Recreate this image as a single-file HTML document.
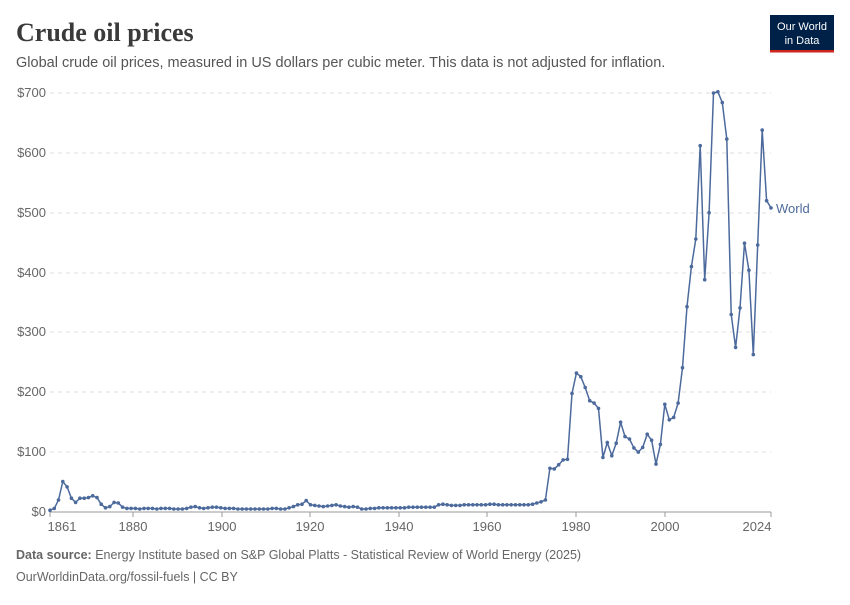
<!DOCTYPE html>
<html><head><meta charset="utf-8"><style>
body{margin:0;background:#fff;width:850px;height:600px;overflow:hidden;font-family:"Liberation Sans",sans-serif}
</style></head><body>
<svg width="850" height="600" xmlns="http://www.w3.org/2000/svg" font-family="Liberation Sans, sans-serif">
<text x="16" y="41" font-family="Liberation Serif, serif" font-size="26" font-weight="bold" fill="#3a3a3a">Crude oil prices</text>
<text x="16" y="67" font-size="14.5" fill="#555">Global crude oil prices, measured in US dollars per cubic meter. This data is not adjusted for inflation.</text>
<rect x="770" y="15" width="64" height="37" fill="#002147"/>
<rect x="770" y="50" width="64" height="2.5" fill="#ce261e"/>
<text x="802" y="30" font-size="11" fill="#fff" text-anchor="middle">Our World</text>
<text x="802" y="44" font-size="11" fill="#fff" text-anchor="middle">in Data</text>
<g stroke="#ddd" stroke-dasharray="4,4" stroke-width="1">
<line x1="50" x2="771" y1="93" y2="93"/><line x1="50" x2="771" y1="153" y2="153"/><line x1="50" x2="771" y1="213" y2="213"/><line x1="50" x2="771" y1="273" y2="273"/><line x1="50" x2="771" y1="332" y2="332"/><line x1="50" x2="771" y1="392" y2="392"/><line x1="50" x2="771" y1="452" y2="452"/>
</g>
<line x1="50" x2="771" y1="512" y2="512" stroke="#999"/>
<g font-size="13" fill="#666" text-anchor="end">
<text x="46" y="97">$700</text><text x="46" y="157">$600</text><text x="46" y="217">$500</text><text x="46" y="277">$400</text><text x="46" y="336">$300</text><text x="46" y="396">$200</text><text x="46" y="456">$100</text><text x="46" y="516">$0</text>
</g>
<g stroke="#999"><line x1="50" x2="50" y1="512" y2="517"/><line x1="133" x2="133" y1="512" y2="517"/><line x1="222" x2="222" y1="512" y2="517"/><line x1="310" x2="310" y1="512" y2="517"/><line x1="399" x2="399" y1="512" y2="517"/><line x1="487" x2="487" y1="512" y2="517"/><line x1="576" x2="576" y1="512" y2="517"/><line x1="665" x2="665" y1="512" y2="517"/><line x1="771" x2="771" y1="512" y2="517"/></g>
<g font-size="13" fill="#666" text-anchor="middle">
<text x="62" y="531">1861</text><text x="133" y="531">1880</text><text x="222" y="531">1900</text><text x="310" y="531">1920</text><text x="399" y="531">1940</text><text x="487" y="531">1960</text><text x="576" y="531">1980</text><text x="665" y="531">2000</text><text x="757" y="531">2024</text>
</g>
<g id="s"></g>
<text x="776" y="213" font-size="13" fill="#4c6a9c">World</text>
<text x="16" y="559" font-size="12.5" fill="#666"><tspan font-weight="bold">Data source:</tspan> Energy Institute based on S&amp;P Global Platts - Statistical Review of World Energy (2025)</text>
<text x="16" y="581" font-size="12.5" fill="#666">OurWorldinData.org/fossil-fuels | CC BY</text>
</svg>
<script>
var early=[3,6,20,51,42,23,16,23,23,24,27,24,13,7,9,16,15,8,6,6,6,5,6,6,6,5,6,6,6,5,5,5,6,8,9,7,6,7,8,8,7,6,6,6,5,5,5,5,5,5,5,5,6,6,5,5,7,9,12,13,19,12,11,10,9,10,11,12,10,9,8,9,8,5,5,6,6,7,7,7,7,7,7,7,8,8,8,8,8,8,8,12,13,12,11,11,11,12,12,12,12,12,12,13,13,12,12,12,12,12,12,12,12,13,15,17,20];
var late=[73,72,79,87,88,198,232,226,208,186,182,173,91,116,94,115,150,126,122,107,100,108,130,120,80,113,180,154,158,182,241,343,410,456,612,388,500,700,702,684,623,330,275,341,449,404,263,446,638,520,508];
var pts=[];
for(var i=0;i<early.length;i++){pts.push([50+i*(112/(early.length-1))*4.423,early[i]]);}
for(var j=0;j<late.length;j++){pts.push([771-(late.length-1-j)*4.423,late[j]]);}
var p=[],c='';
pts.forEach(function(q){var x=q[0].toFixed(1),y=(512-q[1]*0.5986).toFixed(1);p.push(x+','+y);c+='<circle cx="'+x+'" cy="'+y+'" r="1.8" fill="#4c6a9c"/>';});
document.getElementById('s').innerHTML='<polyline points="'+p.join(' ')+'" fill="none" stroke="#4c6a9c" stroke-width="1.5"/>'+c;
</script>
</body></html>
